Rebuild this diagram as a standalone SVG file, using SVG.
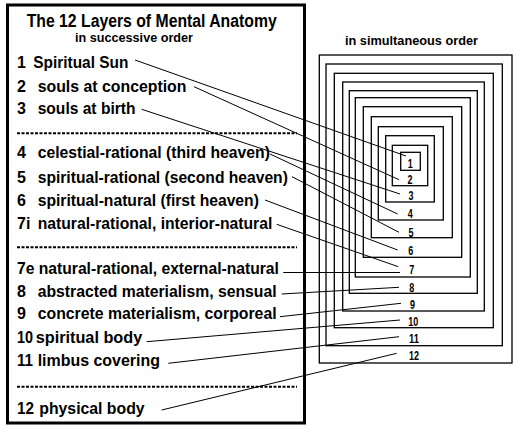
<svg xmlns="http://www.w3.org/2000/svg" width="521" height="433" viewBox="0 0 521 433">
<style>
text{font-family:"Liberation Sans",Arial,sans-serif;font-weight:bold;fill:#000}
.t{font-size:16px}
.h{font-size:18px}
.s{font-size:13.5px}
.n{font-size:12.5px}
.box{fill:none;stroke:#000;stroke-width:1.3}
.dash{stroke:#000;stroke-width:2;stroke-dasharray:3,1.5}
.c{stroke:#000;stroke-width:1;fill:none}
</style>
<rect width="521" height="433" fill="#fff"/>
<g id="panel">
<rect x="7.5" y="5" width="297" height="418" fill="none" stroke="#000" stroke-width="3"/>
<text class="h" x="26.7" y="26.7" textLength="250" lengthAdjust="spacingAndGlyphs">The 12 Layers of Mental Anatomy</text>
<text class="s" x="75" y="42.3" textLength="118" lengthAdjust="spacingAndGlyphs">in successive order</text>
<line class="dash" x1="17" y1="133.3" x2="297" y2="133.3"/>
<line class="dash" x1="17" y1="247.3" x2="297" y2="247.3"/>
<line class="dash" x1="17" y1="386.7" x2="297" y2="386.7"/>
</g>
<g id="item1"><text class="t" x="17" y="68.3">1</text><text class="t" x="33.3" y="68.3" textLength="95" lengthAdjust="spacingAndGlyphs">Spiritual Sun</text></g>
<g id="item2"><text class="t" x="17" y="91.7">2</text><text class="t" x="37.7" y="91.7" textLength="148.8" lengthAdjust="spacingAndGlyphs">souls at conception</text></g>
<g id="item3"><text class="t" x="17" y="114">3</text><text class="t" x="37.7" y="114" textLength="97.8" lengthAdjust="spacingAndGlyphs">souls at birth</text></g>
<g id="item4"><text class="t" x="17" y="158">4</text><text class="t" x="37.7" y="158" textLength="232.2" lengthAdjust="spacingAndGlyphs">celestial-rational (third heaven)</text></g>
<g id="item5"><text class="t" x="17" y="182.5">5</text><text class="t" x="37.7" y="182.5" textLength="250.2" lengthAdjust="spacingAndGlyphs">spiritual-rational (second heaven)</text></g>
<g id="item6"><text class="t" x="17" y="206">6</text><text class="t" x="37.7" y="206" textLength="221.2" lengthAdjust="spacingAndGlyphs">spiritual-natural (first heaven)</text></g>
<g id="item7i"><text class="t" x="17" y="229">7i</text><text class="t" x="37.7" y="229" textLength="234.6" lengthAdjust="spacingAndGlyphs">natural-rational, interior-natural</text></g>
<g id="item7e"><text class="t" x="17" y="274" textLength="261.9" lengthAdjust="spacingAndGlyphs">7e natural-rational, external-natural</text></g>
<g id="item8"><text class="t" x="17" y="296.7">8</text><text class="t" x="37.7" y="296.7" textLength="238.9" lengthAdjust="spacingAndGlyphs">abstracted materialism, sensual</text></g>
<g id="item9"><text class="t" x="17" y="319">9</text><text class="t" x="37.7" y="319" textLength="238.9" lengthAdjust="spacingAndGlyphs">concrete materialism, corporeal</text></g>
<g id="item10"><text class="t" x="17" y="343" textLength="16" lengthAdjust="spacingAndGlyphs">10</text><text class="t" x="35.7" y="343" textLength="106.6" lengthAdjust="spacingAndGlyphs">spiritual body</text></g>
<g id="item11"><text class="t" x="17" y="366" textLength="16" lengthAdjust="spacingAndGlyphs">11</text><text class="t" x="37.7" y="366" textLength="122.2" lengthAdjust="spacingAndGlyphs">limbus covering</text></g>
<g id="item12"><text class="t" x="17" y="414" textLength="17" lengthAdjust="spacingAndGlyphs">12</text><text class="t" x="39.3" y="414" textLength="105.3" lengthAdjust="spacingAndGlyphs">physical body</text></g>
<g id="layers">
<text class="s" x="345" y="45" textLength="133" lengthAdjust="spacingAndGlyphs">in simultaneous order</text>
<rect class="box" x="319.3" y="55" width="192.7" height="308"/>
<rect class="box" x="326" y="64" width="176.3" height="281.7"/>
<rect class="box" x="334.3" y="73.3" width="159" height="254.4"/>
<rect class="box" x="342.7" y="82" width="141.6" height="229"/>
<rect class="box" x="349.3" y="90.7" width="128" height="202.6"/>
<rect class="box" x="355.3" y="97.7" width="115" height="179.3"/>
<rect class="box" x="363.3" y="106.7" width="98.4" height="150.6"/>
<rect class="box" x="371.3" y="116.7" width="81" height="121"/>
<rect class="box" x="378.3" y="126.7" width="65" height="93.3"/>
<rect class="box" x="385.7" y="135.7" width="48.6" height="66.3"/>
<rect class="box" x="392.3" y="145.3" width="35.4" height="40.4"/>
<rect class="box" x="400.7" y="152.3" width="19.6" height="18"/>
<text class="n" x="407.8" y="168.3" textLength="5" lengthAdjust="spacingAndGlyphs">1</text>
<text class="n" x="407.5" y="184" textLength="5" lengthAdjust="spacingAndGlyphs">2</text>
<text class="n" x="408.5" y="200" textLength="5" lengthAdjust="spacingAndGlyphs">3</text>
<text class="n" x="407.8" y="217.5" textLength="5" lengthAdjust="spacingAndGlyphs">4</text>
<text class="n" x="408.5" y="236.7" textLength="5" lengthAdjust="spacingAndGlyphs">5</text>
<text class="n" x="408.2" y="255" textLength="5" lengthAdjust="spacingAndGlyphs">6</text>
<text class="n" x="409.2" y="274.3" textLength="5" lengthAdjust="spacingAndGlyphs">7</text>
<text class="n" x="409.2" y="291.7" textLength="5" lengthAdjust="spacingAndGlyphs">8</text>
<text class="n" x="410" y="309" textLength="5" lengthAdjust="spacingAndGlyphs">9</text>
<text class="n" x="408.3" y="326" textLength="10" lengthAdjust="spacingAndGlyphs">10</text>
<text class="n" x="409" y="342.7" textLength="10" lengthAdjust="spacingAndGlyphs">11</text>
<text class="n" x="409" y="360" textLength="10" lengthAdjust="spacingAndGlyphs">12</text>
</g>
<g id="connectors">
<line class="c" x1="135" y1="60" x2="406" y2="156"/>
<line class="c" x1="194" y1="86.7" x2="399" y2="179.7"/>
<line class="c" x1="141.7" y1="109.3" x2="400" y2="194"/>
<line class="c" x1="270" y1="154" x2="397.7" y2="214"/>
<line class="c" x1="292" y1="176.7" x2="399" y2="232.3"/>
<line class="c" x1="265" y1="200" x2="397.7" y2="250"/>
<line class="c" x1="276.7" y1="224.3" x2="398.3" y2="266.7"/>
<line class="c" x1="283.3" y1="272.5" x2="400" y2="272.5"/>
<line class="c" x1="281.7" y1="294" x2="399" y2="287.3"/>
<line class="c" x1="280" y1="316.7" x2="401" y2="303.3"/>
<line class="c" x1="146.7" y1="341.7" x2="400" y2="320"/>
<line class="c" x1="168.3" y1="363.3" x2="399" y2="336.7"/>
<line class="c" x1="161.7" y1="410" x2="396.7" y2="353.3"/>
</g>
</svg>
